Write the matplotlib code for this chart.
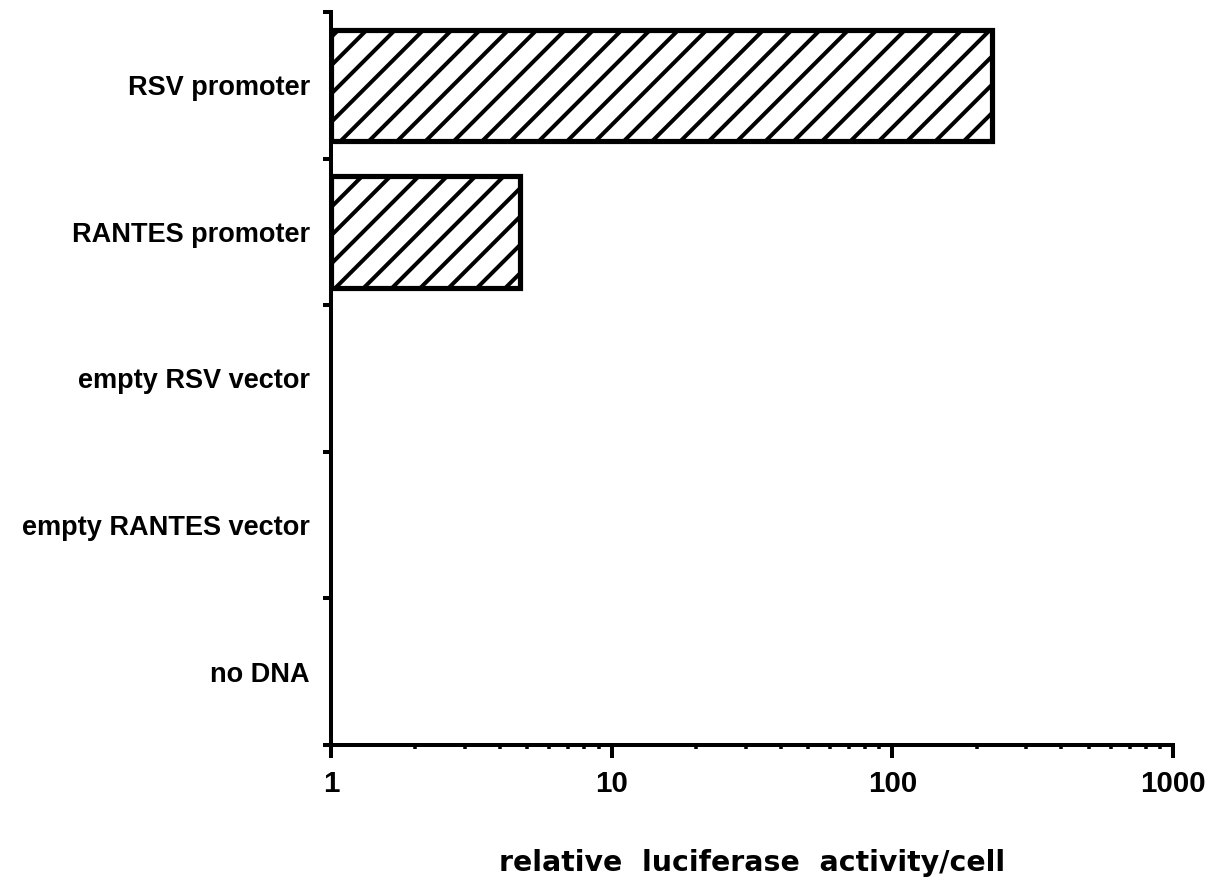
import matplotlib
matplotlib.use("Agg")
import matplotlib.pyplot as plt
import numpy as np
from matplotlib.ticker import LogLocator, NullFormatter

# ---- data ----
categories = ["RSV promoter", "RANTES promoter", "empty RSV vector",
              "empty RANTES vector", "no DNA"]
activity = [227.0, 4.7, 1.0, 1.0, 1.0]
xticks = [1, 10, 100, 1000]
xtick_labels = ["1", "10", "100", "1000"]
xlabel = "relative  luciferase  activity/cell"

plt.rcParams["font.family"] = ["Liberation Sans", "DejaVu Sans"]
plt.rcParams["hatch.linewidth"] = 1.7
plt.rcParams["hatch.color"] = "black"

DPI = 170
W, H = 1219, 879
fig = plt.figure(figsize=(W / DPI, H / DPI), dpi=DPI)
ax = fig.add_axes([331 / W, 1 - 745 / H, (1173 - 331) / W, (745 - 12) / H])

ax.set_xscale("log")
ax.set_xlim(1, 1000)

n = len(categories)
y = np.arange(n)
base = 1.0
vals = np.array(activity)
lws = [2.2 if v > base else 0.0 for v in vals]
ax.barh(y, vals - base, left=base, height=0.76, color="white",
        edgecolor="black", linewidth=lws, hatch="//", zorder=2)

ax.set_ylim(n - 0.5, -0.5)
ax.set_yticks(np.arange(-0.5, n, 1.0))
ax.set_yticks(y, minor=True)
ax.set_yticklabels(categories, minor=True, fontsize=11.5, fontweight="bold")
ax.tick_params(axis="y", which="major", length=3.4, width=1.7, direction="out",
               labelleft=False)
ax.tick_params(axis="y", which="minor", length=0, pad=9)

ax.set_xticks(xticks)
ax.set_xticklabels(xtick_labels, fontsize=12.5, fontweight="bold")
ax.xaxis.set_minor_locator(LogLocator(base=10, subs=np.arange(2, 10)))
ax.xaxis.set_minor_formatter(NullFormatter())
ax.tick_params(axis="x", which="major", length=5.5, width=1.7, pad=5)
ax.tick_params(axis="x", which="minor", length=1.8, width=1.5)

for s in ["top", "right"]:
    ax.spines[s].set_visible(False)
for s in ["left", "bottom"]:
    ax.spines[s].set_linewidth(1.7)
    ax.spines[s].set_zorder(3)

fig.text(752 / W, 1 - 871 / H, xlabel, fontsize=12, fontweight="bold",
         family="DejaVu Sans", ha="center", va="baseline")

fig.savefig("out.png", dpi=DPI, facecolor="white")
